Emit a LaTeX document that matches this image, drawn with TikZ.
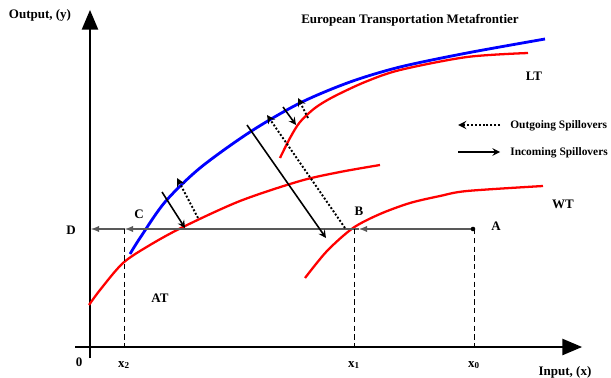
\documentclass[tikz,border=0pt]{standalone}
\usepackage{fontspec}
\setmainfont{Liberation Serif}
\usetikzlibrary{arrows,positioning,calc}

\begin{document}
\begin{tikzpicture}[x=0.02cm, y=-0.02cm,
    lbl/.style={font=\fontsize{7.4}{8}\selectfont\bfseries, inner sep=1pt},
    leg/.style={font=\fontsize{6.5}{7}\selectfont\bfseries, inner sep=0pt, anchor=west},
    axis/.style={line width=1.6pt, -triangle 45},
    frontier/.style={line width=1.3pt},
    inarrow/.style={->, line width=0.9pt, >=stealth},
    outarrow/.style={->, line width=1.1pt, >=stealth, dash pattern=on 1.1pt off 1.1pt},
    guide/.style={densely dashed, line width=0.4pt},
    level/.style={gray!70!black, line width=0.6pt}]
  \useasboundingbox (0,0) rectangle (611,378);
  % axes
  \coordinate (origin) at (90,347);
  \coordinate (ytop) at (90,10);
  \coordinate (xend) at (582,347);
  \draw[line width=1.6pt] (90,358) -- (origin);
  \draw[axis] (75,347) -- (xend);
  \draw[axis] (origin) -- (ytop);
  \node[lbl] (ylab) at (40,15) {Output, (y)};
  \node[lbl] (xlab) at (565,372) {Input, (x)};
  \node[lbl] (zero) at (79,362) {0};
  \node[lbl] (title) at (410,20) {European Transportation Metafrontier};
  % metafrontier and group frontiers
  \draw[frontier, blue, line width=1.6pt] plot[smooth] coordinates {(130,254) (140,238) (165,202) (200,168) (250,132) (300,103) (350,82) (400,67) (467,53) (545,39)};
  \draw[frontier, red] plot[smooth] coordinates {(89,305) (100,290) (123,263) (150,245) (183,227) (240,201) (300,181) (340,172) (380,165)};
  \draw[frontier, red] plot[smooth] coordinates {(280,158) (290,138) (300,122) (315,108) (333,97) (365,82) (400,70) (467,57) (528,53)};
  \draw[frontier, red] plot[smooth] coordinates {(305,278) (327,251) (353,228) (380,214) (410,203) (440,196) (467,191) (543,186)};
  \node[lbl] (AT) at (160,298) {AT};
  \node[lbl] (LT) at (534,76) {LT};
  \node[lbl] (WT) at (563,204) {WT};
  % input levels
  \coordinate (D) at (91,229);
  \coordinate (C) at (125,229);
  \coordinate (B) at (359,229);
  \coordinate (A) at (473,229);
  \draw[level, -latex] (A) -- (B);
  \draw[level, -latex] (B) -- (C);
  \draw[level, -latex] (C) -- (D);
  \fill (A) circle (2.3);
  \node[lbl] at (71,230) {D};
  \node[lbl] at (139,214) {C};
  \node[lbl] at (359,211) {B};
  \node[lbl] at (496,226) {A};
  \draw[guide] (124,229) -- (124,347);
  \draw[guide] (354,229) -- (354,347);
  \draw[guide] (474,229) -- (474,347);
  \node[lbl] (x2) at (124,365) {x\textsubscript{2}};
  \node[lbl] (x1) at (354,365) {x\textsubscript{1}};
  \node[lbl] (x0) at (474,365) {x\textsubscript{0}};
  % spillovers
  \coordinate (in1s) at (162,192);
  \coordinate (in1e) at (185,228);
  \coordinate (out1s) at (198,218);
  \coordinate (out1e) at (177,178);
  \coordinate (in2s) at (247,125);
  \coordinate (in2e) at (326,238);
  \coordinate (out2s) at (345,228);
  \coordinate (out2e) at (267,115);
  \coordinate (in3s) at (283,107);
  \coordinate (in3e) at (296,125);
  \coordinate (out3s) at (308,118);
  \coordinate (out3e) at (298,98);
  \draw[inarrow] (in1s) -- (in1e);
  \draw[inarrow] (in2s) -- (in2e);
  \draw[inarrow] (in3s) -- (in3e);
  \draw[outarrow] (out1s) -- (out1e);
  \draw[outarrow] (out2s) -- (out2e);
  \draw[outarrow] (out3s) -- (out3e);
  % legend
  \coordinate (legO) at (500,125);
  \coordinate (legI) at (458,152);
  \draw[outarrow] (legO) -- ++(-42,0);
  \draw[inarrow] (legI) -- ++(42,0);
  \node[leg] (outtxt) at (510,126) {Outgoing Spillovers};
  \node[leg] (intxt) at (510,153) {Incoming Spillovers};
\end{tikzpicture}
\end{document}
